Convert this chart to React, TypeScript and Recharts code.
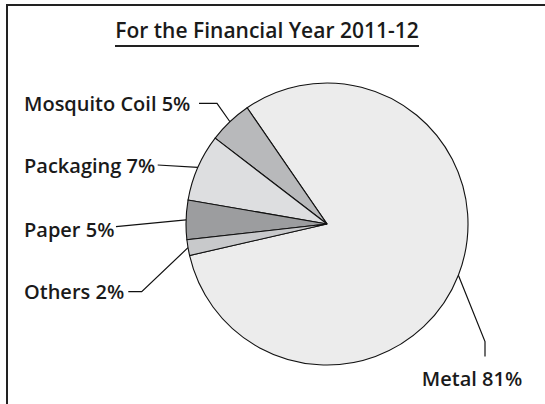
import React from "react";
import { PieChart, Pie, Cell } from "recharts";

const categories = ["Metal", "Mosquito Coil", "Packaging", "Paper", "Others"];
const shares = [81, 5, 7.7, 4.5, 1.8];
const shareLabels = ["81%", "5%", "7%", "5%", "2%"];
const title = "For the Financial Year 2011-12";

const colors = ["#ececec", "#b8b9bb", "#dddee0", "#9c9d9f", "#c8c9cb"];

const data = categories.map((name, i) => ({ name, value: shares[i], pct: shareLabels[i] }));

// label layout offsets relative to the pie centre (style, not data)
const labelLayout = [
  { tx: 145, ty: 162, anchor: "middle", pts: [[158, 117.5], [158, 132.5]] },
  { tx: -303, ty: -113.3, anchor: "start", pts: [[-110, -120.7], [-128, -120.7]] },
  { tx: -303, ty: -50.7, anchor: "start", pts: [[-169.3, -59]] },
  { tx: -303, ty: 12.7, anchor: "start", pts: [[-211, 2.7]] },
  { tx: -303, ty: 75.3, anchor: "start", pts: [[-185.3, 67.7], [-198.7, 67.7]] },
];

const FONT = "'Open Sans', sans-serif";
const RAD = Math.PI / 180;

const renderLabel = (props: any) => {
  const { cx, cy, midAngle, outerRadius, index } = props;
  const lay = labelLayout[index];
  const px = cx + outerRadius * Math.cos(-midAngle * RAD);
  const py = cy + outerRadius * Math.sin(-midAngle * RAD);
  const pts = [[px, py], ...lay.pts.map(([dx, dy]) => [cx + dx, cy + dy])];
  return (
    <g key={`lbl-${index}`}>
      <polyline
        points={pts.map((p) => p.join(",")).join(" ")}
        fill="none"
        stroke="#111"
        strokeWidth={1.2}
      />
      <text
        x={cx + lay.tx}
        y={cy + lay.ty}
        textAnchor={lay.anchor as any}
        fontFamily={FONT}
        fontWeight={600}
        fontSize={20}
        fill="#1a1a1a"
      >
        {`${categories[index]} ${shareLabels[index]}`}
      </text>
    </g>
  );
};

export default function App() {
  return (
    <div style={{ position: "absolute", left: 0, top: 0, width: 545, height: 404, background: "#fff" }}>
      <PieChart width={545} height={404} margin={{ top: 0, right: 0, bottom: 0, left: 0 }}>
        <line x1={6} y1={5} x2={545} y2={5} stroke="#222" strokeWidth={2} />
        <line x1={7} y1={4} x2={7} y2={404} stroke="#222" strokeWidth={2} />
        <text
          x={267}
          y={37.5}
          textAnchor="middle"
          fontFamily={FONT}
          fontWeight={600}
          fontSize={21}
          fill="#1a1a1a"
        >
          {title}
        </text>
        <line x1={115} y1={46} x2={419} y2={46} stroke="#222" strokeWidth={2} />
        <Pie
          data={data}
          dataKey="value"
          nameKey="name"
          cx={327}
          cy={224}
          outerRadius={141}
          startAngle={192.9}
          endAngle={552.9}
          stroke="#111"
          strokeWidth={1.1}
          label={renderLabel}
          labelLine={false}
          isAnimationActive={false}
        >
          {data.map((d, i) => (
            <Cell key={d.name} fill={colors[i]} />
          ))}
        </Pie>
      </PieChart>
    </div>
  );
}
